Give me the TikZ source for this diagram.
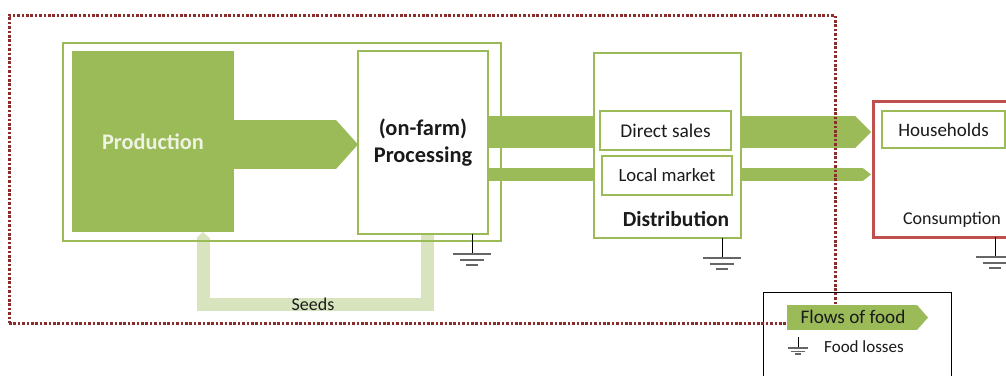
\documentclass[tikz,border=0pt]{standalone}
\usepackage{fontspec}
\setmainfont{Carlito}
\usetikzlibrary{arrows.meta,backgrounds}
\definecolor{leaf}{HTML}{9BBB59}
\definecolor{pale}{HTML}{D7E4BD}
\definecolor{brick}{HTML}{C0504D}
\definecolor{wine}{HTML}{8C2D2D}
\definecolor{ink}{HTML}{1A1A1A}
\definecolor{cream}{HTML}{EEF3E2}
\tikzset{
  earth/.pic={\draw[black,line width=.8pt] (0,0) -- (0,20);
    \draw[black!60,line width=1.6pt] (-19,20) -- (19,20) (-12,26) -- (12,26) (-6,31) -- (6,31);}
}
\begin{document}
\begin{tikzpicture}[x=1pt,y=-1pt,
  box/.style={draw=leaf,line width=2pt,fill=white,anchor=north west,inner sep=0pt,outer sep=0pt},
  lbl/.style={text=ink,inner sep=0pt},
  flow/.style={draw=leaf},
  seed/.style={draw=pale,line width=13pt},
  boundary/.style={draw=wine,line width=3pt,dash pattern=on 2.6pt off 1.8pt,anchor=north west,inner sep=0pt,outer sep=0pt}]
\clip (0,0) rectangle (1006,375);
\node[box,fill=none,minimum width=438pt,minimum height=198pt] (farm) at (63,43) {};
\node[box,fill=leaf,draw=none,minimum width=162pt,minimum height=181pt,text=cream,font=\bfseries\fontsize{22.3}{26}\selectfont] (prod) at (72,51) {Production};
\node[box,minimum width=130pt,minimum height=183pt,align=center,text=ink,font=\bfseries\fontsize{22.4}{27}\selectfont] (proc) at (358,51) {(on-farm)\\Processing};
\node[box,minimum width=147pt,minimum height=185pt] (dist) at (594,53) {};
\node[lbl,font=\bfseries\fontsize{21.5}{25}\selectfont] (distlbl) at (676,219) {Distribution};
\node[box,minimum width=131pt,minimum height=39pt,text=ink,font=\fontsize{19.4}{22}\selectfont] (direct) at (600,111) {Direct sales};
\node[box,minimum width=130pt,minimum height=39pt,text=ink,font=\fontsize{18.7}{22}\selectfont] (local) at (602,156) {Local market};
\node[box,draw=brick,line width=3pt,minimum width=150pt,minimum height=136pt] (cons) at (873,101) {};
\node[box,minimum width=123pt,minimum height=37pt,text=ink,font=\fontsize{19}{22}\selectfont] (house) at (882,111) {Households};
\node[lbl,font=\fontsize{18}{22}\selectfont] (conslbl) at (952,220) {Consumption};
\node[lbl,font=\fontsize{18}{20}\selectfont] (seedlbl) at (313,304.5) {Seeds};
\node[draw=black,line width=.8pt,anchor=north west,minimum width=188pt,minimum height=100pt] (key) at (763,292) {};
\begin{scope}[on background layer]
\coordinate (rowP) at (0,144.5);
\coordinate (rowA) at (0,132);
\coordinate (rowB) at (0,174.5);
\draw[flow,line width=49pt,-{Triangle[length=22pt,width=49pt,line width=0pt]}] (prod.east |- rowP) -- (proc.west |- rowP);
\draw[flow,line width=32pt] (proc.east |- rowA) -- (dist.west |- rowA);
\draw[flow,line width=12.5pt] (proc.east |- rowB) -- (dist.west |- rowB);
\draw[flow,line width=32pt,shorten >=2pt,-{Triangle[length=16pt,width=32pt,line width=0pt]}] (dist.east |- rowA) -- (cons.west |- rowA);
\draw[flow,line width=12.5pt,shorten >=2pt,-{Triangle[length=8pt,width=12.5pt,line width=0pt]}] (dist.east |- rowB) -- (cons.west |- rowB);
\draw[seed,-{Triangle[length=6pt,width=13pt,line width=0pt]}] ([xshift=4.5pt]proc.south) |- (seedlbl.center) -| ([xshift=50pt]prod.south);
\end{scope}
\pic at ([xshift=-16pt]proc.south east) {earth};
\pic at ([xshift=-19pt]dist.south east) {earth};
\pic at ([xshift=122pt]cons.south west) {earth};
\node[boundary,minimum width=826pt,minimum height=308pt] (chain) at (9,15) {};
\coordinate (keyL) at (787,317.5);
\coordinate (keyR) at (928,317.5);
\draw[flow,line width=25pt,-{Triangle[length=11pt,width=25pt,line width=0pt]}] (keyL) -- (keyR);
\node[lbl,font=\fontsize{19.2}{22}\selectfont] (flowlbl) at (853,317) {Flows of food};
\pic[scale=.55] at (798,337) {earth};
\node[lbl,anchor=west,font=\fontsize{17}{19}\selectfont] (losslbl) at (824,347) {Food losses};
\end{tikzpicture}
\end{document}
